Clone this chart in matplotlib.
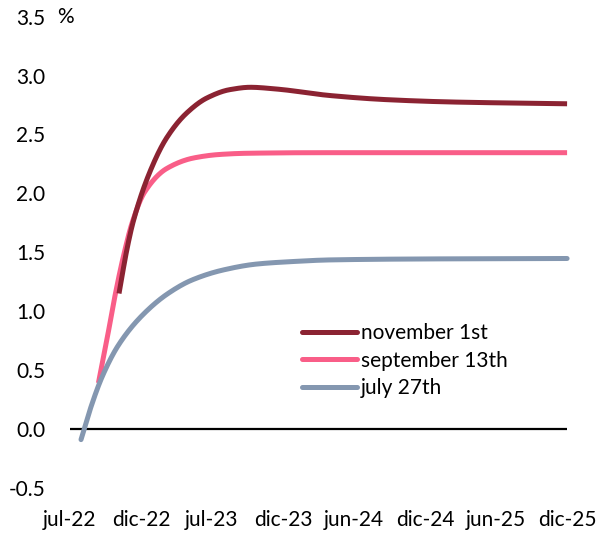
import numpy as np
import matplotlib
matplotlib.use("Agg")
import matplotlib.pyplot as plt

plt.rcParams['font.family'] = ['Lato', 'DejaVu Sans']

# x positions are in tick units (0 = jul-22 ... 7 = dic-25)
tick_labels = ["jul-22", "dic-22", "jul-23", "dic-23", "jun-24", "dic-24", "jun-25", "dic-25"]

nov_x = [0.69, 0.80, 0.89, 1.13, 1.36, 1.64, 1.93, 2.25, 2.54, 2.91, 3.66, 4.46, 5.39, 7.0]
nov_y = [1.15, 1.52, 1.76, 2.19, 2.47, 2.68, 2.81, 2.88, 2.90, 2.885, 2.83, 2.795, 2.775, 2.76]

sep_x = [0.40, 0.52, 0.63, 0.75, 0.88, 1.05, 1.36, 1.74, 2.11, 2.49, 3.5, 7.0]
sep_y = [0.39, 0.76, 1.12, 1.46, 1.76, 2.01, 2.21, 2.30, 2.33, 2.34, 2.345, 2.345]

jul_x = [0.155, 0.28, 0.45, 0.68, 1.01, 1.38, 1.72, 2.16, 2.63, 3.10, 3.66, 4.93, 7.0]
jul_y = [-0.09, 0.16, 0.44, 0.71, 0.96, 1.15, 1.265, 1.35, 1.40, 1.42, 1.435, 1.443, 1.447]


def smooth(x, y, n=30):
    # monotone cubic (Fritsch-Carlson) through the points
    x = np.asarray(x, float)
    y = np.asarray(y, float)
    h = np.diff(x)
    d = np.diff(y) / h
    m = np.zeros_like(y)
    m[0], m[-1] = d[0], d[-1]
    for i in range(1, len(x) - 1):
        if d[i - 1] * d[i] > 0:
            w1 = 2 * h[i] + h[i - 1]
            w2 = h[i] + 2 * h[i - 1]
            m[i] = (w1 + w2) / (w1 / d[i - 1] + w2 / d[i])
    xs, ys = [], []
    for i in range(len(x) - 1):
        t = np.linspace(0, 1, n, endpoint=False)
        h00 = 2 * t**3 - 3 * t**2 + 1
        h10 = t**3 - 2 * t**2 + t
        h01 = -2 * t**3 + 3 * t**2
        h11 = t**3 - t**2
        xs.append(x[i] + t * h[i])
        ys.append(h00 * y[i] + h10 * h[i] * m[i] + h01 * y[i + 1] + h11 * h[i] * m[i + 1])
    xs.append([x[-1]])
    ys.append([y[-1]])
    return np.concatenate(xs), np.concatenate(ys)


fig = plt.figure(figsize=(6.02, 5.35), dpi=100)
ax = fig.add_axes([0.1163, 0.088, 0.8257, 0.881])

ax.axhline(0, color="black", lw=1.6, zorder=1)

lw = 3.6
ax.plot(*smooth(nov_x, nov_y), color="#8B2332", lw=lw, solid_capstyle="butt",
        label="november 1st", zorder=3, clip_on=False)
ax.plot(*smooth(sep_x, sep_y), color="#F95E88", lw=lw, solid_capstyle="butt",
        label="september 13th", zorder=2, clip_on=False)
ax.plot(*smooth(jul_x, jul_y), color="#8497B0", lw=lw, solid_capstyle="round",
        label="july 27th", zorder=2, clip_on=False)

ax.set_xlim(0, 7)
ax.set_ylim(-0.5, 3.5)
ax.set_xticks(range(len(tick_labels)))
ax.set_xticklabels(tick_labels)
yt = np.arange(-0.5, 3.51, 0.5)
ax.set_yticks(yt)
ax.set_yticklabels([f"{v:.1f}" for v in yt])
ax.tick_params(axis="both", length=0, labelsize=15)
ax.tick_params(axis="y", pad=18)
ax.tick_params(axis="x", pad=16)
for s in ax.spines.values():
    s.set_visible(False)

ax.text(-0.06, 3.5, "%", fontsize=15, ha="center", va="center")

leg = ax.legend(loc="upper left", bbox_to_anchor=(292 / 602, (535 - 313) / 535),
                bbox_transform=fig.transFigure, frameon=False, fontsize=15,
                handlelength=2.6, handletextpad=0.2, labelspacing=0.35, borderpad=0)
for h in leg.get_lines():
    h.set_solid_capstyle("round")

fig.savefig("out.png", dpi=100)
